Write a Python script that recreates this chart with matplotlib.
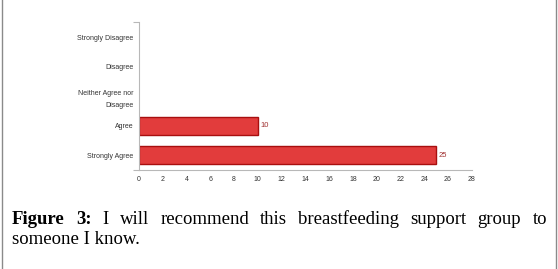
import matplotlib
matplotlib.use("Agg")
import matplotlib.pyplot as plt
from matplotlib.lines import Line2D

# survey answers, bottom to top as drawn
categories = ["Strongly Agree", "Agree", "Neither Agree nor\nDisagree", "Disagree", "Strongly Disagree"]
counts = [25, 10, 0, 0, 0]
xticks = list(range(0, 29, 2))

caption_bold = ["Figure", "3:"]
caption_line1 = "I will recommend this breastfeeding support group to"
caption_line2 = "someone I know."

W, H = 558, 269
fig = plt.figure(figsize=(W / 100, H / 100), dpi=100)
ax = fig.add_axes([139 / W, 1 - 170 / H, (471.7 - 139) / W, (170 - 22.3) / H])

axis_col = "#b8b8b8"
ypos = list(range(len(categories)))
edges = ["#a80f0f" if c > 0 else "none" for c in counts]
ax.barh(ypos, counts, height=0.6, color="#e23c3c", edgecolor=edges, linewidth=1.0)
for y, c in zip(ypos, counts):
    if c > 0:
        ax.text(c + 0.2, y, str(c), va="center", ha="left", fontsize=5.5,
                color="#a03030", family="Liberation Sans")

ax.set_xlim(0, 28)
ax.set_ylim(-0.5, len(categories) - 0.5)
ax.set_xticks(xticks)
ax.set_xticklabels([str(t) for t in xticks], fontsize=5, family="Liberation Sans", color="#333333")
ax.set_yticks(ypos)
ax.set_yticklabels(categories, fontsize=5, family="Liberation Sans", color="#333333",
                   linespacing=2.0)
ax.tick_params(axis="both", length=0)
ax.tick_params(axis="x", pad=4)
ax.tick_params(axis="y", pad=4)

# end stubs on the axis lines
ax.set_yticks([-0.5, len(categories) - 0.5], minor=True)
ax.tick_params(axis="y", which="minor", length=4, color=axis_col, width=0.8, direction="out")
ax.set_xticks([28], minor=True)
ax.tick_params(axis="x", which="minor", length=4, color=axis_col, width=0.8, direction="in")

for s in ["top", "right"]:
    ax.spines[s].set_visible(False)
for s in ["left", "bottom"]:
    ax.spines[s].set_color(axis_col)
    ax.spines[s].set_linewidth(0.8)

# grey frame at both sides of the figure
for xf in (1.5 / W, 555.5 / W):
    fig.add_artist(Line2D([xf, xf], [0, 1], transform=fig.transFigure, color="#8a8a8a", lw=1))

# justified caption
serif = "Liberation Serif"
fs = 13.5
words = [(w, "bold") for w in caption_bold] + [(w, "normal") for w in caption_line1.split()]
texts = [fig.text(0, 1 - 219 / H, w, fontsize=fs, family=serif, weight=wt, va="center")
         for w, wt in words]
fig.canvas.draw()
r = fig.canvas.get_renderer()
widths = [t.get_window_extent(r).width for t in texts]
left, right = 12.0, 547.0
gap = (right - left - sum(widths)) / (len(texts) - 1)
x = left
for t, w in zip(texts, widths):
    t.set_x(x / W)
    x += w + gap
fig.text(left / W, 1 - 240 / H, caption_line2, fontsize=fs, family=serif, va="center")

fig.savefig("out.png", dpi=100)
